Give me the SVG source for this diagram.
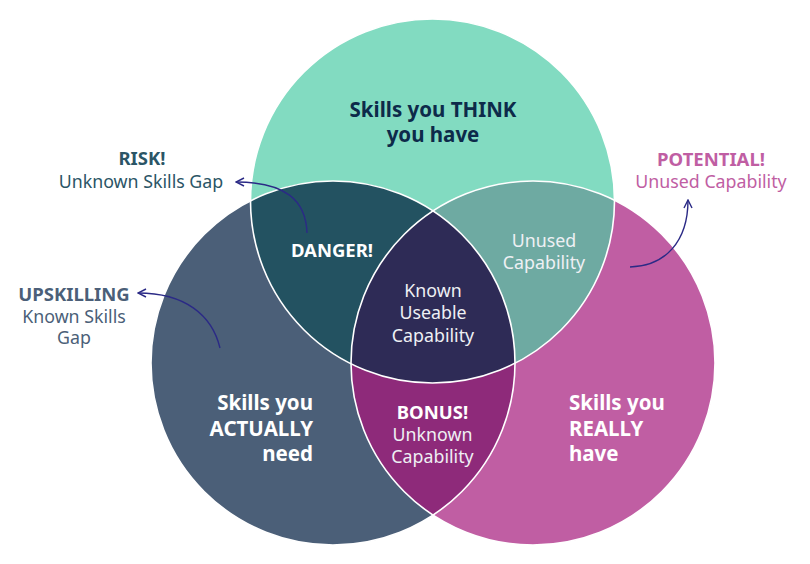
<svg xmlns="http://www.w3.org/2000/svg" width="810" height="564" viewBox="0 0 810 564">
<style>
text{font-family:"Noto Sans","Open Sans","Liberation Sans",sans-serif;text-anchor:middle}
.b{font-weight:700}
.w{fill:#FFFFFF}
.lt{fill:#EEF0F4}
.r{font-size:17.8px}
.s{font-size:18.5px}
.g{font-size:20.5px}
.outline{fill:none;stroke:#FFFFFF;stroke-width:1.6}
.arr{fill:none;stroke:#2B2A86;stroke-width:1.4;marker-end:url(#ah)}
</style>
<defs>
<clipPath id="cT"><circle cx="432.5" cy="201" r="182"/></clipPath>
<clipPath id="cL"><circle cx="333" cy="363" r="182"/></clipPath>
<marker id="ah" viewBox="0 0 10 10" refX="9" refY="5" markerWidth="10" markerHeight="10" markerUnits="userSpaceOnUse" orient="auto">
<path d="M1,1 L9,5 L1,9" fill="none" stroke="#2B2A86" stroke-width="1.4"/>
</marker>
</defs>
<g id="circle-think"><circle cx="432.5" cy="201" r="182" fill="#82DBC1"/></g>
<g id="circle-actually"><circle cx="333" cy="363" r="182" fill="#4B5F78"/></g>
<g id="circle-really"><circle cx="533" cy="363" r="182" fill="#C05EA3"/></g>
<g id="danger"><circle cx="333" cy="363" r="182" fill="#235261" clip-path="url(#cT)"/></g>
<g id="unused"><circle cx="533" cy="363" r="182" fill="#6EAAA2" clip-path="url(#cT)"/></g>
<g id="bonus"><circle cx="533" cy="363" r="182" fill="#8E2A7A" clip-path="url(#cL)"/></g>
<g id="known"><g clip-path="url(#cT)"><circle cx="533" cy="363" r="182" fill="#2E2B56" clip-path="url(#cL)"/></g></g>
<g id="outlines">
<circle class="outline" cx="432.5" cy="201" r="182"/>
<circle class="outline" cx="333" cy="363" r="182"/>
<circle class="outline" cx="533" cy="363" r="182"/>
</g>
<g id="connectors">
<path class="arr" d="M307,233 C306,200 285,182 236,182"/>
<path class="arr" d="M220,348 C212,315 185,293 138,293"/>
<path class="arr" d="M630,267 C665,266 688,242 688,200"/>
</g>
<g id="labels">
<text class="b g" x="433" y="117" fill="#0D2A4A">Skills you THINK</text>
<text class="b g" x="433" y="142" fill="#0D2A4A">you have</text>
<text class="b w s" x="332" y="257">DANGER!</text>
<text class="lt r" x="433" y="297">Known</text>
<text class="lt r" x="433" y="319">Useable</text>
<text class="lt r" x="433" y="342">Capability</text>
<text class="lt r" x="544" y="247">Unused</text>
<text class="lt r" x="544" y="269">Capability</text>
<text class="b w s" x="432.5" y="419">BONUS!</text>
<text class="lt r" x="432.5" y="441">Unknown</text>
<text class="lt r" x="432.5" y="463">Capability</text>
<text class="b w g" x="569" y="410" style="text-anchor:start">Skills you</text>
<text class="b w g" x="569" y="436" style="text-anchor:start">REALLY</text>
<text class="b w g" x="569" y="461" style="text-anchor:start">have</text>
<text class="b w g" x="313" y="410" style="text-anchor:end">Skills you</text>
<text class="b w g" x="313" y="436" style="text-anchor:end">ACTUALLY</text>
<text class="b w g" x="313" y="461" style="text-anchor:end">need</text>
<text class="b s" x="142" y="165" fill="#2B5566">RISK!</text>
<text class="r" x="141" y="188" fill="#2B5566">Unknown Skills Gap</text>
<text class="b s" x="74" y="301" fill="#4B5F78">UPSKILLING</text>
<text class="r" x="74" y="323" fill="#4B5F78">Known Skills</text>
<text class="r" x="74" y="344" fill="#4B5F78">Gap</text>
<text class="b s" x="711" y="166" fill="#C05EA3">POTENTIAL!</text>
<text class="r" x="711" y="188" fill="#C05EA3">Unused Capability</text>
</g>
</svg>
